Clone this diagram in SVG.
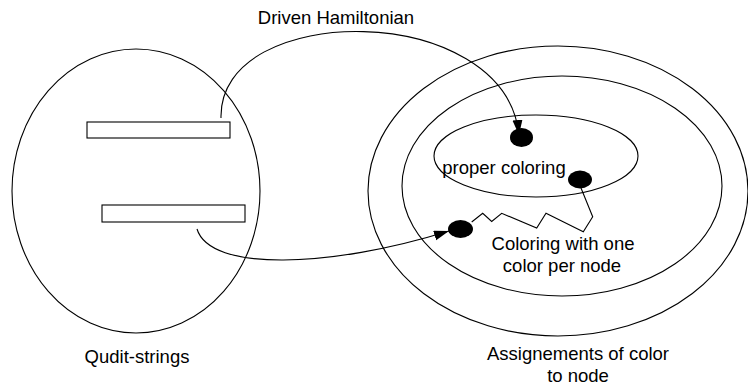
<svg xmlns="http://www.w3.org/2000/svg" width="748" height="387" viewBox="0 0 748 387">
  <defs>
    <style>
      .ring { fill: none; stroke: #000; stroke-width: 1.1; }
      .bar { fill: #fff; stroke: #000; stroke-width: 1.1; }
      .dot { fill: #000; stroke: none; }
      .link { fill: none; stroke: #000; stroke-width: 1.1; }
      .lbl { font-family: "Liberation Sans", Arial, sans-serif; font-size: 18.5px; fill: #000; text-anchor: middle; }
    </style>
    <marker id="arrow" markerUnits="userSpaceOnUse" markerWidth="16" markerHeight="12" refX="15" refY="5" orient="auto">
      <path d="M0,0 L15,5 L0,10 Z" fill="#000"/>
    </marker>
  </defs>
  <rect width="748" height="387" fill="#fff"/>

  <!-- qudit-string space -->
  <g id="qudit-strings">
    <ellipse class="ring" cx="136" cy="191" rx="124" ry="142"/>
    <text class="lbl" x="137" y="363">Qudit-strings</text>
  </g>
  <g id="string-a">
    <rect class="bar" x="87" y="122" width="143" height="16"/>
  </g>
  <g id="string-b">
    <rect class="bar" x="102" y="205" width="143" height="17"/>
  </g>

  <!-- nested sets of colour assignments -->
  <g id="assignments">
    <ellipse class="ring" cx="558" cy="191" rx="190" ry="145"/>
    <text class="lbl" x="578" y="360">Assignements of color</text>
    <text class="lbl" x="578" y="381.5">to node</text>
  </g>
  <g id="one-color-per-node">
    <ellipse class="ring" cx="562" cy="186" rx="160" ry="110"/>
    <text class="lbl" x="563" y="250">Coloring with one</text>
    <text class="lbl" x="562" y="271.5">color per node</text>
  </g>
  <g id="proper-coloring">
    <ellipse class="ring" cx="536" cy="156" rx="102" ry="41"/>
    <text class="lbl" x="504" y="174">proper coloring</text>
  </g>

  <!-- connectors -->
  <g id="connectors">
    <path id="driven-hamiltonian" class="link" d="M221,118 C218,0 505,0 519,135" marker-end="url(#arrow)"/>
    <text class="lbl" x="336" y="24">Driven Hamiltonian</text>
    <path class="link" d="M197,229 C210,272 330,268 449,231" marker-end="url(#arrow)"/>
    <polyline class="link" points="471.7,222 482.7,213.3 491.7,221.5 501.7,213.3 536.7,228 546,213.3 583.3,231.7 592.7,216.7 581,188"/>
  </g>

  <!-- states -->
  <g id="state-top">
    <ellipse class="dot" cx="521.5" cy="137.5" rx="11.5" ry="9.5"/>
  </g>
  <g id="state-right">
    <ellipse class="dot" cx="580" cy="179.5" rx="12" ry="9"/>
  </g>
  <g id="state-left">
    <ellipse class="dot" cx="460.5" cy="229" rx="12.5" ry="9"/>
  </g>
</svg>
